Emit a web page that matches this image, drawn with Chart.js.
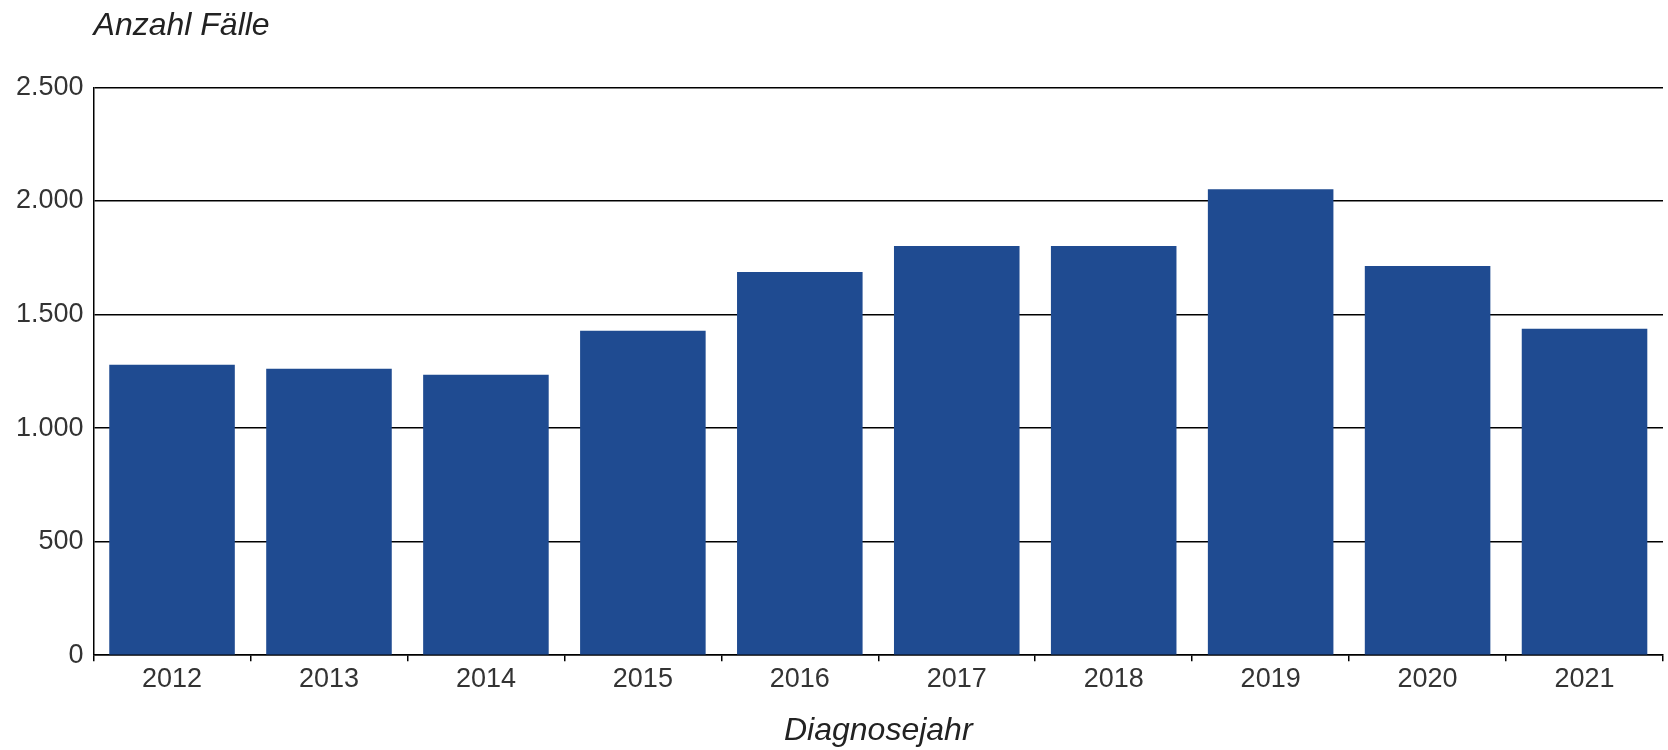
<!DOCTYPE html>
<html>
<head>
<meta charset="utf-8">
<title>Anzahl Fälle nach Diagnosejahr</title>
<script src="https://cdn.jsdelivr.net/npm/chart.js@4.4.1/dist/chart.umd.min.js"></script>
<style>
    html, body { margin: 0; padding: 0; background: #fff; }
    #box { width: 1668px; height: 750px; }
</style>
</head>
<body>
<div id="box"><canvas id="chart_faelle"></canvas></div>
<script>
// Daten
var jahre = ["2012", "2013", "2014", "2015", "2016", "2017", "2018", "2019", "2020", "2021"];
var anzahlFaelle = [1279, 1261, 1235, 1429, 1687, 1802, 1802, 2052, 1714, 1437];
var yTickWerte = [0, 500, 1000, 1500, 2000, 2500];
var yTickLabels = ["0", "500", "1.000", "1.500", "2.000", "2.500"];

var schrift = "'Liberation Sans', Arial, sans-serif";

let dados = {
    labels: jahre,
    datasets: [{
        label: 'Anzahl Fälle',
        data: anzahlFaelle,
        backgroundColor: '#1f4b91',
        borderWidth: 0,
        categoryPercentage: 0.8,
        barPercentage: 1.0
    }]
};

const config = {
    type: 'bar',
    data: dados,
    options: {
        responsive: true,
        maintainAspectRatio: false,
        animation: false,
        layout: { padding: { left: 6, right: 5, top: 0, bottom: 0 } },
        plugins: {
            legend: { display: false },
            tooltip: { enabled: false },
            title: {
                display: true,
                text: 'Anzahl Fälle',
                align: 'start',
                fullSize: false,
                color: '#222',
                font: { family: schrift, size: 32, style: 'italic', weight: 'normal', lineHeight: 1.2 },
                padding: { top: 7, bottom: 42 }
            }
        },
        scales: {
            x: {
                grid: {
                    display: true,
                    drawOnChartArea: false,
                    drawTicks: true,
                    tickLength: 6,
                    color: '#000',
                    lineWidth: 1.5
                },
                border: { display: true, color: '#000', width: 1.5 },
                ticks: {
                    color: '#333',
                    padding: 2,
                    font: { family: schrift, size: 27 }
                },
                title: {
                    display: true,
                    text: 'Diagnosejahr',
                    color: '#222',
                    font: { family: schrift, size: 32, style: 'italic', lineHeight: 1.2 },
                    padding: { top: 14, bottom: 0 }
                }
            },
            y: {
                min: 0,
                max: 2500,
                afterBuildTicks: function (scale) {
                    scale.ticks = yTickWerte.map(function (v) { return { value: v }; });
                },
                grid: {
                    color: '#000',
                    lineWidth: 1.5,
                    drawTicks: false
                },
                border: { display: true, color: '#000', width: 1.5 },
                ticks: {
                    color: '#333',
                    padding: 10,
                    font: { family: schrift, size: 27 },
                    callback: function (value) {
                        var i = yTickWerte.indexOf(value);
                        return i >= 0 ? yTickLabels[i] : '';
                    }
                }
            }
        }
    }
};

let myChart = new Chart(
    document.getElementById('chart_faelle'),
    config,
);
</script>
</body>
</html>
